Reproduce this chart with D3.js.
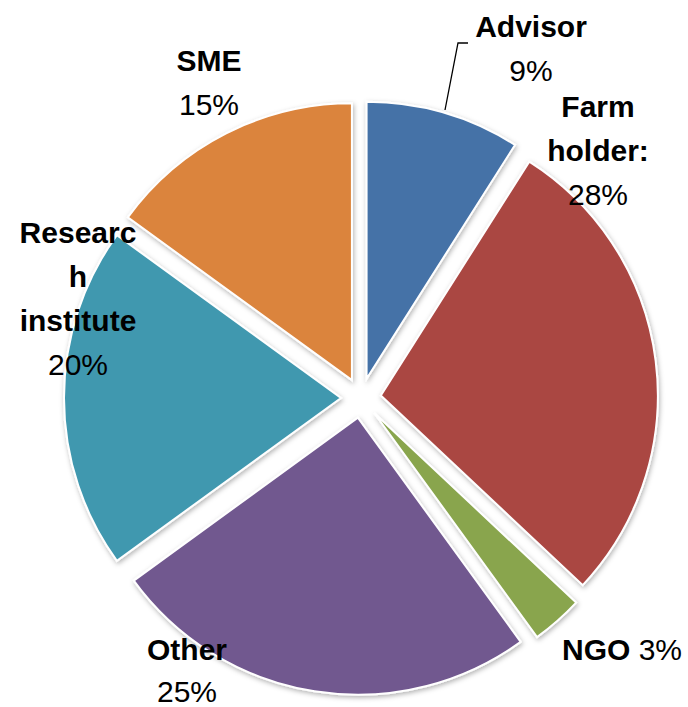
<!DOCTYPE html>
<html>
<head>
<meta charset="utf-8">
<script src="https://cdn.jsdelivr.net/npm/d3@7"></script>
<style>
body { margin: 0; background: #fff; }
text { font-family: "Liberation Sans", Arial, sans-serif; font-size: 30px; fill: #000; }
</style>
</head>
<body>
<script>
var categories = ["Advisor", "Farm holder:", "NGO", "Other", "Research institute", "SME"];
var values = [9, 28, 3, 25, 20, 15];
var percentLabels = ["9%", "28%", "3%", "25%", "20%", "15%"];
var colors = ["#4572A7", "#AA4643", "#89A54E", "#71588F", "#4198AF", "#DB843D"];

// label wrapping / placement as in the original
var nameLines = {
  "Advisor": ["Advisor"],
  "Farm holder:": ["Farm", "holder:"],
  "NGO": ["NGO"],
  "Other": ["Other"],
  "Research institute": ["Researc", "h", "institute"],
  "SME": ["SME"]
};
var labelPos = {
  "Advisor": [531, 37],
  "Farm holder:": [598, 117],
  "Other": [187, 660],
  "Research institute": [78, 243],
  "SME": [209, 71]
};

var width = 688, height = 707;
var cx = 361, cy = 398, radius = 277, explode = 20, lineH = 44;

var canvas = d3.select("body").append("svg").attr("width", width).attr("height", height);

var defs = canvas.append("defs");
defs.append("filter").attr("id", "shadow")
  .attr("x", "-20%").attr("y", "-20%").attr("width", "140%").attr("height", "140%")
  .append("feDropShadow")
  .attr("dx", 1).attr("dy", 2).attr("stdDeviation", 2.5)
  .attr("flood-color", "#000").attr("flood-opacity", 0.3);

var data = categories.map(function(c, i) {
  return {name: c, value: values[i], pct: percentLabels[i], color: colors[i]};
});

var pie = d3.pie().sort(null).value(function(d) { return d.value; });
var arc = d3.arc().innerRadius(0).outerRadius(radius);

canvas.append("g")
  .selectAll("path")
  .data(pie(data))
  .join("path")
  .attr("d", arc)
  .attr("fill", function(d) { return d.data.color; })
  .attr("stroke", "#fff")
  .attr("stroke-width", 2)
  .attr("filter", "url(#shadow)")
  .attr("transform", function(d) {
    var mid = (d.startAngle + d.endAngle) / 2;
    return "translate(" + (cx + explode * Math.sin(mid)) + "," + (cy - explode * Math.cos(mid)) + ")";
  });

// leader line for Advisor
canvas.append("path")
  .attr("d", "M445,110L458,43L468,43")
  .attr("fill", "none")
  .attr("stroke", "#000")
  .attr("stroke-width", 1.3);

var labels = canvas.append("g");

data.forEach(function(d) {
  if (d.name == "NGO") {
    var t = labels.append("text").attr("x", 562).attr("y", 660);
    t.append("tspan").attr("font-weight", "bold").text("NGO");
    t.append("tspan").text(" " + d.pct);
    return;
  }
  var p = labelPos[d.name];
  var lines = nameLines[d.name];
  var gap = d.name == "Other" ? 42 : lineH;
  var t = labels.append("text").attr("text-anchor", "middle");
  lines.forEach(function(l, i) {
    t.append("tspan").attr("x", p[0]).attr("y", p[1] + i * gap)
      .attr("font-weight", "bold").text(l);
  });
  t.append("tspan").attr("x", p[0]).attr("y", p[1] + lines.length * gap).text(d.pct);
});
</script>
</body>
</html>
